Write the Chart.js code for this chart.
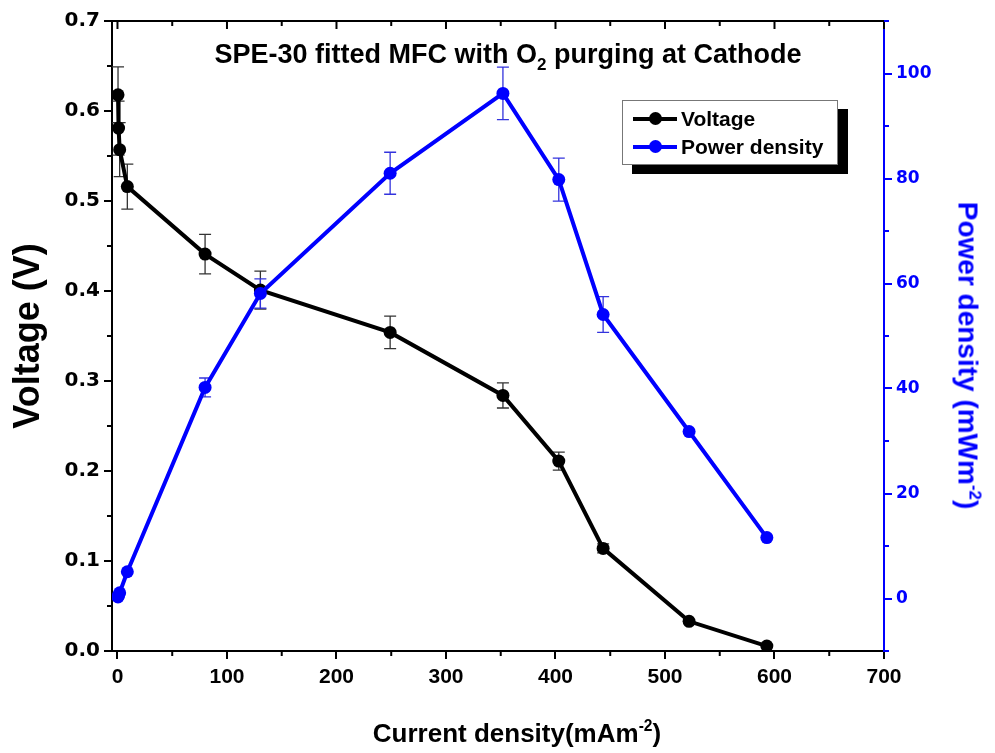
<!DOCTYPE html>
<html>
<head>
<meta charset="utf-8">
<script src="https://cdn.jsdelivr.net/npm/chart.js@4"></script>
<style>
    body { margin: 0; background: #fff; }
    #wrap { position: relative; width: 995px; height: 753px; }
    #title {
        position: absolute; left: 0; width: 1016px; top: 39px; text-align: center;
        font: bold 27px "Liberation Sans", Arial, sans-serif; color: #000;
    }
    #title sub { font-size: 17px; vertical-align: -7px; }
    #xtitle {
        position: absolute; left: 317px; width: 400px; top: 717px; text-align: center;
        font: bold 26px "Liberation Sans", Arial, sans-serif; color: #000;
    }
    #ytitle2 {
        position: absolute; left: 968px; top: 357px; width: 400px; margin-left: -200px; margin-top: -18px;
        text-align: center; transform: rotate(90deg);
        font: bold 28px "Liberation Sans", Arial, sans-serif; color: #0000ff;
    }
    sup { font-size: 60%; vertical-align: 11px; }
    #legend {
        position: absolute; left: 622px; top: 100px; width: 214px; height: 63px;
        background: #fff; border: 1px solid #777; box-shadow: 10px 9px 0 #000;
        font: bold 21px "Liberation Sans", Arial, sans-serif;
    }
    .row { position: absolute; left: 10px; height: 24px; line-height: 24px; }
    .mark { position: absolute; left: 0; top: 10px; width: 44px; height: 4px; }
    .dot { position: absolute; left: 16px; top: -5px; width: 13px; height: 13px; border-radius: 50%; }
    .row span.txt { position: absolute; left: 48px; white-space: nowrap; }
</style>
</head>
<body>
<div id="wrap">
    <canvas id="chart" width="995" height="753"></canvas>
    <div id="title">SPE-30 fitted MFC with O<sub>2</sub> purging at Cathode</div>
    <div id="xtitle">Current density(mAm<sup>-2</sup>)</div>
    <div id="ytitle2">Power density (mWm<sup>-2</sup>)</div>
    <div id="legend">
        <div class="row" style="top:6px"><div class="mark" style="background:#000"><div class="dot" style="background:#000"></div></div><span class="txt">Voltage</span></div>
        <div class="row" style="top:34px"><div class="mark" style="background:#0000ff"><div class="dot" style="background:#0000ff"></div></div><span class="txt">Power density</span></div>
    </div>
</div>
<script>
// values
var currentDensity = [0.5, 1, 2, 9, 80, 130.5, 249, 352, 403, 443.5, 522, 593];
var voltage = [0.618, 0.581, 0.557, 0.516, 0.441, 0.401, 0.354, 0.284, 0.211, 0.114, 0.033, 0.0055];
var voltageErr = [0.031, 0.03, 0.03, 0.025, 0.022, 0.021, 0.018, 0.014, 0.01, 0.005, 0, 0];
var powerDensity = [0.3, 0.6, 1.1, 5.1, 40.2, 58.1, 81.0, 96.2, 79.8, 54.1, 31.8, 11.6];
var powerErr = [0, 0, 0, 0, 1.8, 2.8, 4.0, 5.0, 4.1, 3.4, 0, 0];

var xTicks = [0, 100, 200, 300, 400, 500, 600, 700];
var voltTicks = [0, 0.1, 0.2, 0.3, 0.4, 0.5, 0.6, 0.7];
var powerTicks = [0, 20, 40, 60, 80, 100];

var BLUE = "#0000ff";

function points(xs, ys) {
    return xs.map(function (x, i) { return {x: x, y: ys[i]}; });
}

function fixTicks(values) {
    return function (axis) {
        axis.ticks = values.map(function (v) { return {value: v}; });
    };
}

// error bars, drawn through the scales
var errorBars = {
    id: "errorBars",
    beforeDatasetsDraw: function (chart) {
        var ctx = chart.ctx;
        var x = chart.scales.x;
        var sets = [
            {ys: voltage, err: voltageErr, scale: chart.scales.y, color: "#333"},
            {ys: powerDensity, err: powerErr, scale: chart.scales.y2, color: "#3333dd"}
        ];
        ctx.save();
        ctx.lineWidth = 1.3;
        sets.forEach(function (s) {
            ctx.strokeStyle = s.color;
            currentDensity.forEach(function (cx, i) {
                if (!s.err[i]) return;
                var px = x.getPixelForValue(cx);
                var top = s.scale.getPixelForValue(s.ys[i] + s.err[i]);
                var bot = s.scale.getPixelForValue(s.ys[i] - s.err[i]);
                ctx.beginPath();
                ctx.moveTo(px, top); ctx.lineTo(px, bot);
                ctx.moveTo(px - 6, top); ctx.lineTo(px + 6, top);
                ctx.moveTo(px - 6, bot); ctx.lineTo(px + 6, bot);
                ctx.stroke();
            });
        });
        ctx.restore();
    }
};

// top frame line and minor ticks, Origin style
var frame = {
    id: "frame",
    afterDraw: function (chart) {
        var ctx = chart.ctx;
        var a = chart.chartArea;
        var x = chart.scales.x, y = chart.scales.y, y2 = chart.scales.y2;
        var v;
        ctx.save();
        ctx.lineWidth = 2;
        ctx.strokeStyle = "#000";
        ctx.beginPath();
        ctx.moveTo(a.left, a.top); ctx.lineTo(a.right, a.top);
        for (v = 0; v <= 700; v += 50) {
            var px = x.getPixelForValue(v);
            ctx.moveTo(px, a.top); ctx.lineTo(px, a.top + (v % 100 === 0 ? 8 : 5));
            if (v % 100 !== 0) {
                ctx.moveTo(px, a.bottom); ctx.lineTo(px, a.bottom + 5);
            }
        }
        for (v = 0.05; v < 0.7; v += 0.1) {
            var py = y.getPixelForValue(v);
            ctx.moveTo(a.left, py); ctx.lineTo(a.left - 5, py);
        }
        ctx.stroke();
        ctx.strokeStyle = BLUE;
        ctx.beginPath();
        for (v = -10; v <= 110; v += 20) {
            var py2 = y2.getPixelForValue(v);
            ctx.moveTo(a.right, py2); ctx.lineTo(a.right + 5, py2);
        }
        ctx.stroke();
        ctx.restore();
    }
};

new Chart(document.getElementById("chart"), {
    type: "line",
    data: {
        datasets: [
            {
                label: "Voltage",
                data: points(currentDensity, voltage),
                yAxisID: "y",
                borderColor: "#000",
                backgroundColor: "#000",
                borderWidth: 4,
                pointRadius: 6.5,
                pointBorderWidth: 0,
                tension: 0,
                order: 2
            },
            {
                label: "Power density",
                data: points(currentDensity, powerDensity),
                yAxisID: "y2",
                borderColor: BLUE,
                backgroundColor: BLUE,
                borderWidth: 4,
                pointRadius: 6.5,
                pointBorderWidth: 0,
                tension: 0,
                order: 1
            }
        ]
    },
    options: {
        responsive: false,
        animation: false,
        devicePixelRatio: 1,
        layout: {padding: {top: 21, left: 0, right: 0, bottom: 0}},
        plugins: {legend: {display: false}, tooltip: {enabled: false}},
        scales: {
            x: {
                type: "linear",
                position: "bottom",
                min: -5,
                max: 700,
                afterBuildTicks: fixTicks(xTicks),
                afterFit: function (s) { s.height = 102; },
                border: {color: "#000", width: 2},
                grid: {drawOnChartArea: false, tickLength: 8, color: "#000", lineWidth: 2},
                ticks: {color: "#000", padding: 6, font: {family: "Liberation Sans", weight: "bold", size: 21}}
            },
            y: {
                type: "linear",
                position: "left",
                min: 0,
                max: 0.7,
                afterBuildTicks: fixTicks(voltTicks),
                afterFit: function (s) { s.width = 112; },
                border: {color: "#000", width: 2},
                grid: {drawOnChartArea: false, tickLength: 8, color: "#000", lineWidth: 2},
                ticks: {
                    color: "#000", padding: 4,
                    font: {family: "DejaVu Sans", weight: "bold", size: 20},
                    callback: function (v) { return v.toFixed(1); }
                },
                title: {
                    display: true,
                    text: "Voltage (V)",
                    color: "#000",
                    padding: {top: 7, bottom: 0},
                    font: {family: "Liberation Sans", weight: "bold", size: 36}
                }
            },
            y2: {
                type: "linear",
                position: "right",
                min: -10,
                max: 110,
                afterBuildTicks: fixTicks(powerTicks),
                afterFit: function (s) { s.width = 111; },
                border: {color: BLUE, width: 2},
                grid: {drawOnChartArea: false, tickLength: 8, color: BLUE, lineWidth: 2},
                ticks: {color: BLUE, padding: 4, font: {family: "DejaVu Sans", weight: "bold", size: 17}}
            }
        }
    },
    plugins: [errorBars, frame]
});
</script>
</body>
</html>
